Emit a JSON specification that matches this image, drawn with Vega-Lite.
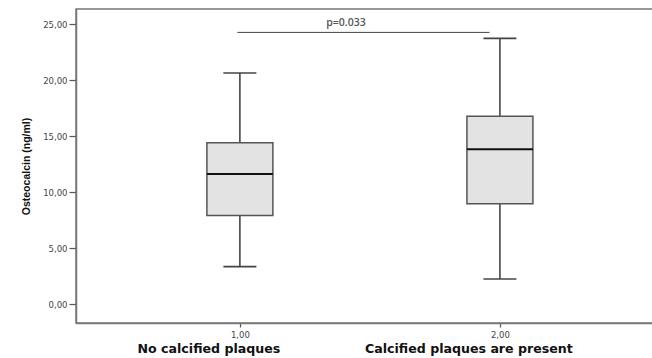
{
  "$schema": "https://vega.github.io/schema/vega-lite/v6.json",
  "autosize": "none",
  "width": 580,
  "height": 314,
  "padding": {"left": 76, "top": 9, "right": 0, "bottom": 35},
  "background": "white",
  "config": {
    "view": {"stroke": "#777", "strokeWidth": 1.5},
    "axis": {"grid": false, "domainColor": "#777", "domainWidth": 1.5, "tickColor": "#555", "tickWidth": 1.2, "tickSize": 4, "labelColor": "#444", "labelFont": "DejaVu Sans", "labelFontSize": 8.5}
  },
  "datasets": {
    "boxes": [
      {"group": 1, "lower": 3.36, "q1": 7.94, "median": 11.63, "q3": 14.43, "upper": 20.65, "label": "No calcified plaques"},
      {"group": 2, "lower": 2.26, "q1": 8.98, "median": 13.84, "q3": 16.8, "upper": 23.75, "label": "Calcified plaques are present"}
    ],
    "sig": [{"x1": 0.99, "x2": 1.96, "y": 24.28, "xm": 1.408, "ty": 25.1, "text": "p=0.033"}]
  },
  "layer": [
    {
      "data": {"name": "boxes"},
      "mark": {"type": "rule", "color": "#444", "strokeWidth": 1.6},
      "encoding": {
        "x": {"field": "group", "type": "quantitative", "scale": {"domain": [0.389, 2.581], "nice": false, "zero": false},
          "axis": {"values": [1, 2], "title": null, "labelExpr": "replace(format(datum.value, '.2f'), '.', ',')", "labelPadding": 3}},
        "y": {"field": "lower", "type": "quantitative", "scale": {"domain": [-1.67, 26.37], "nice": false, "zero": false},
          "axis": {"values": [0, 5, 10, 15, 20, 25], "labelExpr": "replace(format(datum.value, '.2f'), '.', ',')", "tickSize": 7, "labelPadding": 2,
            "title": "Osteocalcin (ng/ml)", "titleFont": "Liberation Sans", "titleFontSize": 10.5, "titleFontWeight": "bold", "titleColor": "#111", "titlePadding": 11}},
        "y2": {"field": "upper"}
      }
    },
    {
      "data": {"name": "boxes"},
      "mark": {"type": "bar", "width": 66, "fill": "#e3e3e3", "stroke": "#555", "strokeWidth": 1.5},
      "encoding": {
        "x": {"field": "group", "type": "quantitative"},
        "y": {"field": "q1", "type": "quantitative"},
        "y2": {"field": "q3"}
      }
    },
    {
      "data": {"name": "boxes"},
      "mark": {"type": "tick", "orient": "horizontal", "size": 66, "thickness": 2, "color": "#111", "opacity": 1},
      "encoding": {
        "x": {"field": "group", "type": "quantitative"},
        "y": {"field": "median", "type": "quantitative"}
      }
    },
    {
      "data": {"name": "boxes"},
      "mark": {"type": "tick", "orient": "horizontal", "size": 33, "thickness": 1.6, "color": "#444", "opacity": 1},
      "encoding": {
        "x": {"field": "group", "type": "quantitative"},
        "y": {"field": "lower", "type": "quantitative"}
      }
    },
    {
      "data": {"name": "boxes"},
      "mark": {"type": "tick", "orient": "horizontal", "size": 33, "thickness": 1.6, "color": "#444", "opacity": 1},
      "encoding": {
        "x": {"field": "group", "type": "quantitative"},
        "y": {"field": "upper", "type": "quantitative"}
      }
    },
    {
      "data": {"name": "boxes"},
      "mark": {"type": "text", "clip": false, "dx": -31, "font": "DejaVu Sans", "fontSize": 12.6, "fontWeight": "bold", "color": "#111", "baseline": "middle"},
      "encoding": {
        "x": {"field": "group", "type": "quantitative"},
        "y": {"datum": -3.95, "type": "quantitative"},
        "text": {"field": "label"}
      }
    },
    {
      "data": {"name": "sig"},
      "mark": {"type": "rule", "color": "#444", "strokeWidth": 1},
      "encoding": {
        "x": {"field": "x1", "type": "quantitative"},
        "x2": {"field": "x2"},
        "y": {"field": "y", "type": "quantitative"}
      }
    },
    {
      "data": {"name": "sig"},
      "mark": {"type": "text", "font": "Open Sans", "fontSize": 10.5, "fontWeight": 600, "color": "#555", "baseline": "middle"},
      "encoding": {
        "x": {"field": "xm", "type": "quantitative"},
        "y": {"field": "ty", "type": "quantitative"},
        "text": {"field": "text"}
      }
    }
  ]
}
